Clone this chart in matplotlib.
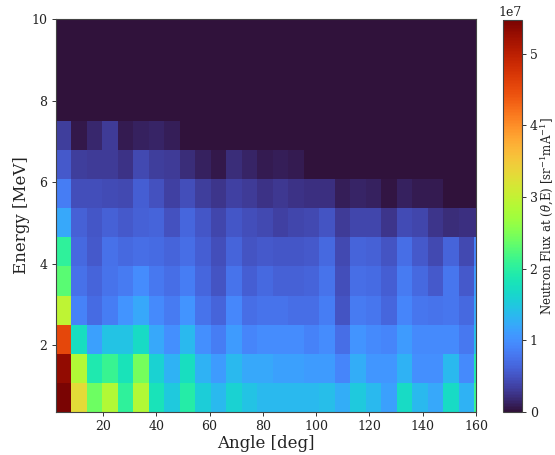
import numpy as np
import matplotlib
matplotlib.use('Agg')
import matplotlib.pyplot as plt

plt.rcParams['font.family'] = 'DejaVu Serif'

# bin edges of the 2D histogram
angle_edges = [2.2 + 5.82 * i for i in range(29)]
energy_edges = [0.357 + 0.7143 * i for i in range(15)]

# flux in units of 1e7, bottom row first, one list per energy bin
r0 = [5.47, 3.3, 2.4, 2.85, 2.05, 2.85, 1.8, 1.5, 1.95, 1.55, 1.35, 1.6, 1.45, 1.35, 1.35, 1.35, 1.35, 1.4, 1.25, 1.5, 1.35, 1.15, 1.7, 1.35, 1.2, 1.7, 1.3, 2.1]
r1 = [5.3, 2.85, 1.9, 2.1, 1.8, 2.45, 1.6, 1.3, 1.75, 1.3, 1.1, 1.35, 1.2, 1.2, 1.15, 1.15, 1.1, 1.1, 0.9, 1.25, 1.05, 1.05, 1.3, 1.0, 1.0, 1.35, 0.95, 1.9]
r2 = [4.55, 1.75, 1.15, 1.45, 1.45, 1.7, 1.2, 1.0, 1.35, 1.0, 0.85, 1.1, 0.9, 0.98, 0.98, 0.98, 0.88, 0.98, 0.72, 1.03, 0.95, 0.9, 1.1, 0.95, 0.95, 0.95, 0.8, 1.4]
r3 = [2.95, 0.88, 0.7, 0.85, 1.03, 1.2, 0.95, 0.82, 1.03, 0.75, 0.62, 0.93, 0.72, 0.75, 0.75, 0.72, 0.72, 0.85, 0.5, 0.83, 0.78, 0.65, 0.9, 0.78, 0.76, 0.78, 0.68, 1.2]
r4 = [2.3, 0.73, 0.62, 0.75, 0.82, 0.97, 0.8, 0.72, 0.85, 0.65, 0.5, 0.75, 0.58, 0.68, 0.6, 0.6, 0.62, 0.75, 0.47, 0.72, 0.7, 0.58, 0.82, 0.68, 0.55, 0.78, 0.55, 1.1]
r5 = [2.05, 0.68, 0.55, 0.73, 0.68, 0.72, 0.7, 0.62, 0.72, 0.58, 0.47, 0.62, 0.5, 0.55, 0.53, 0.53, 0.55, 0.67, 0.42, 0.62, 0.6, 0.5, 0.72, 0.55, 0.42, 0.63, 0.42, 0.9]
r6 = [1.2, 0.6, 0.52, 0.6, 0.55, 0.6, 0.62, 0.48, 0.65, 0.52, 0.4, 0.52, 0.45, 0.42, 0.36, 0.4, 0.42, 0.5, 0.32, 0.4, 0.4, 0.27, 0.43, 0.4, 0.27, 0.2, 0.22, 0.22]
r7 = [0.85, 0.47, 0.45, 0.43, 0.42, 0.58, 0.48, 0.36, 0.45, 0.33, 0.26, 0.36, 0.32, 0.25, 0.28, 0.24, 0.22, 0.22, 0.1, 0.14, 0.12, 0.03, 0.12, 0.08, 0.08, 0.0, 0.0, 0.0]
r8 = [0.55, 0.33, 0.3, 0.3, 0.25, 0.42, 0.33, 0.3, 0.2, 0.12, 0.06, 0.2, 0.13, 0.08, 0.1, 0.07, 0.0, 0.0, 0.0, 0.0, 0.0, 0.0, 0.0, 0.0, 0.0, 0.0, 0.0, 0.0]
r9 = [0.33, 0.05, 0.15, 0.3, 0.08, 0.12, 0.14, 0.1, 0.0, 0.0, 0.0, 0.0, 0.0, 0.0, 0.0, 0.0, 0.0, 0.0, 0.0, 0.0, 0.0, 0.0, 0.0, 0.0, 0.0, 0.0, 0.0, 0.0]
r10 = [0.0] * 28
r11 = [0.0] * 28
r12 = [0.0] * 28
r13 = [0.0] * 28

flux = np.array([r0, r1, r2, r3, r4, r5, r6, r7, r8, r9, r10, r11, r12, r13]) * 1e7

fig = plt.figure(figsize=(5.55, 4.55), dpi=100)
ax = fig.add_axes([55.5 / 555, 1 - 412 / 455, 420.5 / 555, 393 / 455])
cax = fig.add_axes([502.5 / 555, 1 - 412 / 455, 19.5 / 555, 392 / 455])

mesh = ax.pcolormesh(angle_edges, energy_edges, flux, cmap='turbo', vmin=0, vmax=5.47e7)
ax.set_xlim(2.2, 160)
ax.set_ylim(0.357, 10)
ax.set_xticks([20, 40, 60, 80, 100, 120, 140, 160])
ax.set_yticks([2, 4, 6, 8, 10])
ax.tick_params(labelsize=9, length=3, width=0.7, pad=3, color='#333333', labelcolor='#222222')
ax.set_xlabel('Angle [deg]', fontsize=12, labelpad=1, color='#222222')
ax.set_ylabel('Energy [MeV]', fontsize=12, labelpad=1, color='#222222')
for s in ax.spines.values():
    s.set_color('#444444')

cb = fig.colorbar(mesh, cax=cax)
cb.set_ticks([0, 1e7, 2e7, 3e7, 4e7, 5e7])
cb.ax.tick_params(labelsize=9, length=3, width=0.7, pad=2.5, color='#333333', labelcolor='#222222')
cb.ax.yaxis.get_offset_text().set_fontsize(9)
cb.outline.set_edgecolor('#444444')
cb.set_label(r'Neutron Flux at ($\theta$,E) [sr$^{-1}$mA$^{-1}$]', fontsize=8.5, labelpad=0.5,
             math_fontfamily='dejavuserif', color='#222222')

fig.savefig('out.png', dpi=100)
